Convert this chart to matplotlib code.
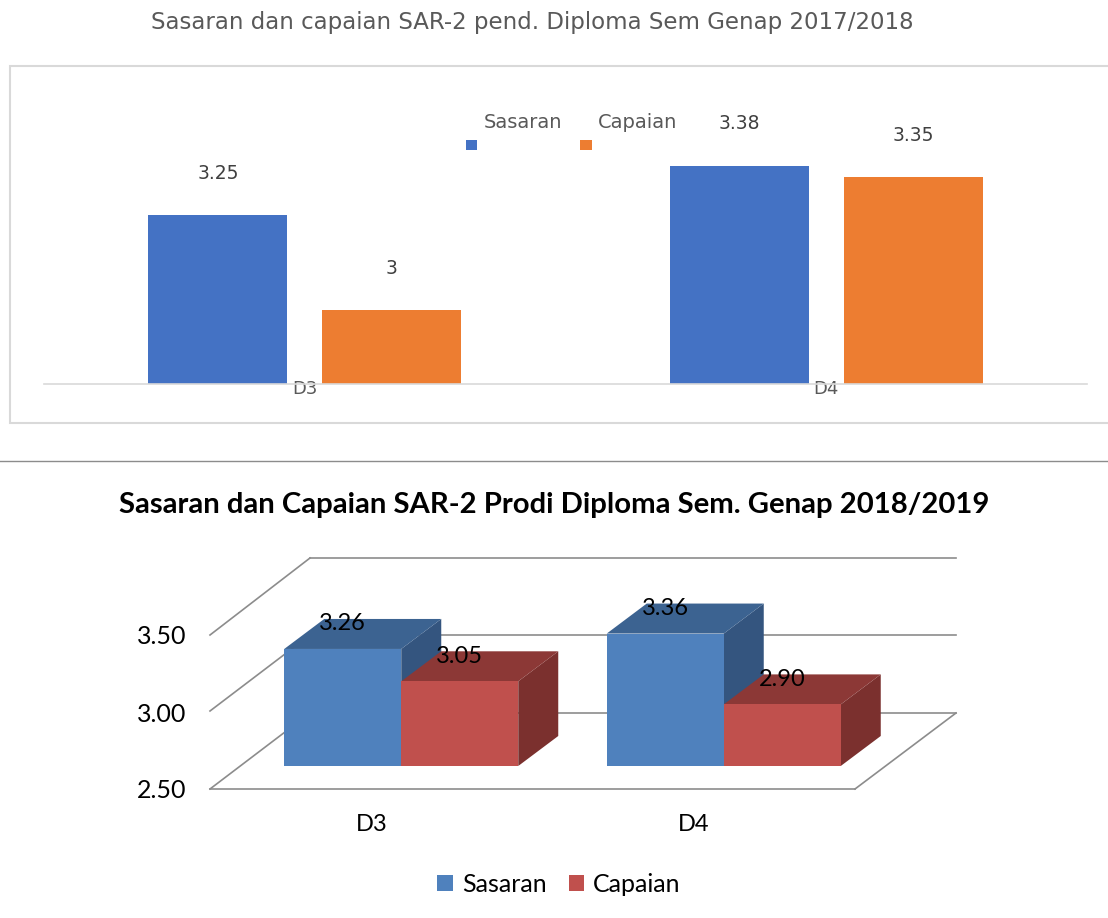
import matplotlib
matplotlib.use('Agg')
import matplotlib.pyplot as plt
from matplotlib.patches import Rectangle, Polygon

W, H = 1108, 918

# top chart
cats_top = ['D3', 'D4']
sasaran_top = [3.25, 3.38]
capaian_top = [3.00, 3.35]

# bottom chart
cats_bot = ['D3', 'D4']
sasaran_bot = [3.26, 3.36]
capaian_bot = [3.05, 2.90]
yticks_bot = [2.5, 3.0, 3.5]

title_top = 'Sasaran dan capaian SAR-2 pend. Diploma Sem Genap 2017/2018'
title_bot = 'Sasaran dan Capaian SAR-2 Prodi Diploma Sem. Genap 2018/2019'


def px_axes(fig, x0, x1, ytop, ybot):
    return fig.add_axes([x0/W, 1 - ybot/H, (x1 - x0)/W, (ybot - ytop)/H])


fig = plt.figure(figsize=(W/100, H/100), dpi=100, facecolor='white')

# overlay in pixels, for frame and separators
ov = fig.add_axes([0, 0, 1, 1], zorder=0)
ov.set_xlim(0, W)
ov.set_ylim(H, 0)
ov.axis('off')
ov.add_patch(Rectangle((10, 66), 1110, 357, fc='white', ec='#d9d9d9', lw=1.5))
ov.plot([0, W], [461, 461], color='#8c8c8c', lw=1)

ov.text(532, 22, title_top, ha='center', va='center', fontsize=16.5,
        color='#595959', family='DejaVu Sans')
ov.text(554, 505, title_bot, ha='center', va='center', fontsize=21.1,
        fontweight='bold', color='black', family='Lato')

# ---- top bars
ax1 = px_axes(fig, 44, 1087, 100, 384)
ax1.set_zorder(1)
ax1.patch.set_alpha(0)
ybase = 2.805
ax1.set_xlim(-0.5, 1.5)
ax1.set_ylim(ybase, ybase + 284/380)
for i in range(len(cats_top)):
    b1 = ax1.bar(i - 0.1667, sasaran_top[i], 0.266, color='#4472c4')
    b2 = ax1.bar(i + 0.1667, capaian_top[i], 0.266, color='#ed7d31')
    for x, v in [(i - 0.1667, sasaran_top[i]), (i + 0.1667, capaian_top[i])]:
        ax1.annotate('{:g}'.format(v), (x, v), xytext=(0, 30), textcoords='offset points',
                     ha='center', va='center', fontsize=13.5, color='#404040', annotation_clip=False,
                     family='DejaVu Sans')
ax1.set_xticks(range(len(cats_top)))
ax1.set_xticklabels(cats_top, fontsize=13, color='#595959', family='DejaVu Sans')
ax1.tick_params(axis='x', length=0, pad=-3)
ax1.set_yticks([])
for s in ['top', 'left', 'right']:
    ax1.spines[s].set_visible(False)
ax1.spines['bottom'].set_color('#d9d9d9')
ax1.spines['bottom'].set_linewidth(1.2)
for t in ax1.get_xticklabels():
    t.set_zorder(5)

# top legend, placed apart from its marks like the original
ov.add_patch(Rectangle((466, 140), 11, 10, fc='#4472c4', ec='none'))
ov.add_patch(Rectangle((580, 140), 12, 10, fc='#ed7d31', ec='none'))
ov.text(484, 123, 'Sasaran', va='center', fontsize=14, color='#595959', family='DejaVu Sans')
ov.text(598, 123, 'Capaian', va='center', fontsize=14, color='#595959', family='DejaVu Sans')

# ---- bottom chart wall / floor
for y in [558, 635, 713]:
    ov.plot([310, 956], [y, y], color='#8c8c8c', lw=1.2)
for y0, y1 in [(635, 558), (711, 635), (789, 713)]:
    ov.plot([210, 310], [y0, y1], color='#8c8c8c', lw=1.2)
ov.plot([855, 956], [789, 713], color='#8c8c8c', lw=1.2)

ax_wall = px_axes(fig, 210, 855, 635, 789)
ax_wall.set_zorder(1)
ax_wall.patch.set_alpha(0)
ax_wall.set_xlim(-0.5, 1.5)
ax_wall.set_ylim(2.5, 3.5)
ax_wall.set_yticks(yticks_bot)
ax_wall.set_yticklabels(['{:.2f}'.format(v) for v in yticks_bot], fontsize=18)
ax_wall.set_xticks(range(len(cats_bot)))
ax_wall.set_xticklabels(cats_bot, fontsize=17)
ax_wall.tick_params(axis='y', length=0, pad=17)
ax_wall.tick_params(axis='x', length=0, pad=18)
for t in ax_wall.get_xticklabels() + ax_wall.get_yticklabels():
    t.set_family('Lato')
for s in ['top', 'left', 'right']:
    ax_wall.spines[s].set_visible(False)
ax_wall.spines['bottom'].set_color('#8c8c8c')
ax_wall.spines['bottom'].set_linewidth(1.2)

# ---- bottom bars with fake depth
ax2 = px_axes(fig, 240, 885, 612, 766)
ax2.set_zorder(2)
ax2.patch.set_alpha(0)
ax2.axis('off')
ax2.set_xlim(-0.5, 1.5)
ax2.set_ylim(2.5, 3.5)
dx = 40/322.5
dy = 30/154
w = 117/322.5


def bar3d(x, v, front, top, side):
    z = 2 + x
    ax2.add_patch(Polygon([(x + w, 2.5), (x + w + dx, 2.5 + dy), (x + w + dx, v + dy), (x + w, v)],
                          fc=side, ec='none', clip_on=False, zorder=z))
    ax2.add_patch(Polygon([(x, v), (x + dx, v + dy), (x + w + dx, v + dy), (x + w, v)],
                          fc=top, ec='none', clip_on=False, zorder=z))
    ax2.bar(x, v - 2.5, w, bottom=2.5, align='edge', color=front, clip_on=False, zorder=z)
    ax2.annotate('{:.2f}'.format(v), (x + w/2, v), xytext=(0, 18), textcoords='offset points',
                 ha='center', va='center', fontsize=17, family='Lato', color='black',
                 annotation_clip=False, zorder=20)


for i in range(len(cats_bot)):
    bar3d(i - w, sasaran_bot[i], '#4f81bd', '#3c6391', '#34557f')
    bar3d(i, capaian_bot[i], '#c0504d', '#8c3836', '#7b302e')

# bottom legend
h1 = Rectangle((0, 0), 1, 1, fc='#4f81bd')
h2 = Rectangle((0, 0), 1, 1, fc='#c0504d')
ov.legend([h1, h2], ['Sasaran', 'Capaian'], loc='center', bbox_to_anchor=(559/W, 1 - 884/H),
          bbox_transform=fig.transFigure, ncol=2, frameon=False, handlelength=0.62,
          handleheight=0.62, handletextpad=0.35, columnspacing=0.9,
          prop={'family': 'Lato', 'size': 18})

fig.savefig('out.png', dpi=100)
